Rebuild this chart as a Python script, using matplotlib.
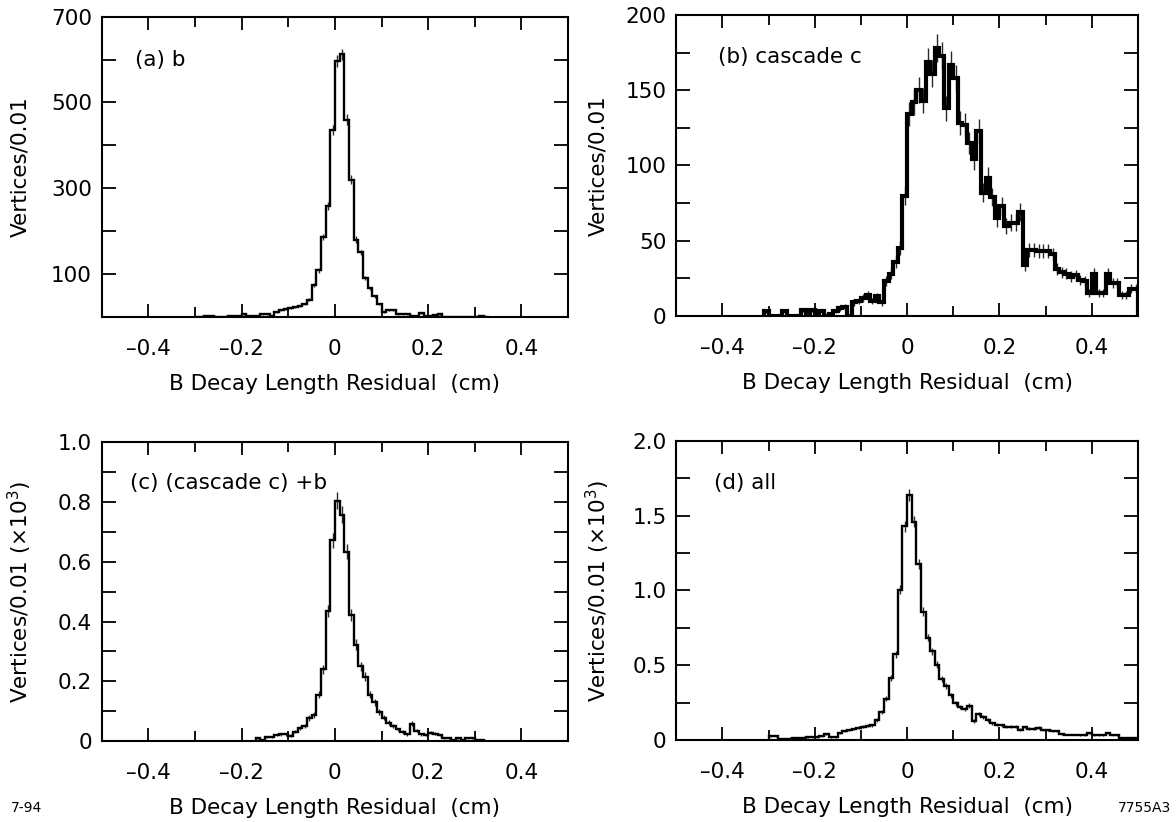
import numpy as np
import matplotlib
matplotlib.use("Agg")
import matplotlib.pyplot as plt
from matplotlib.ticker import FixedLocator, FixedFormatter

plt.rcParams['font.family'] = ['DejaVu Sans']
plt.rcParams['mathtext.fontset'] = 'dejavusans'

BIN = 0.01

# ---- panel (a): b ----  (left edge of first bin, counts per 0.01 bin)
a_start = -0.30
a_counts = [0, 0, 2, 2, 0, 0, 0, 1, 1, 1,
            6, 2, 2, 2, 6, 6, 1, 10, 15, 18,
            20, 22, 25, 30, 40, 74, 108, 186, 258, 435,
            597, 612, 460, 320, 180, 150, 90, 66, 48, 30,
            10, 15, 15, 6, 6, 6, 2, 2, 9, 2,
            2, 4, 6, 0, 0, 0, 0, 0, 0, 0,
            0, 2, 0]

# ---- panel (b): cascade c ----
b_start = -0.31
b_counts = [3, 0, 0, 0, 3, 0, 0, 0, 4, 2,
            4, 1, 3, 0, 1, 3, 5, 6, 0, 9,
            10, 12, 14, 10, 13, 9, 23, 28, 36, 45,
            80, 134, 142, 150, 143, 169, 161, 178, 173, 138,
            167, 158, 128, 127, 115, 104, 123, 82, 92, 79,
            65, 73, 60, 62, 62, 69, 34, 44, 44, 43,
            43, 43, 41, 31, 29, 28, 26, 27, 24, 23,
            15, 28, 15, 15, 28, 22, 22, 14, 14, 18,
            18]

# ---- panel (c): (cascade c) + b, in units of 10^3 ----
c_start = -0.17
c_vals = [0.009, 0.003, 0.012, 0.012, 0.020, 0.022, 0.022, 0.018, 0.031, 0.045,
          0.050, 0.077, 0.088, 0.155, 0.240, 0.435, 0.672,
          0.805, 0.758, 0.633, 0.422, 0.322, 0.250, 0.215, 0.155, 0.130, 0.097,
          0.078, 0.061, 0.050, 0.039, 0.030, 0.022, 0.058, 0.035, 0.022, 0.020,
          0.028, 0.025, 0.020, 0.010, 0.009, 0.005, 0.009, 0.004, 0.009, 0.009,
          0.004, 0.002]

# ---- panel (d): all, in units of 10^3 ----
d_start = -0.30
d_vals = [0.025, 0.025, 0.004, 0.004, 0.007, 0.015, 0.015, 0.015, 0.018, 0.018,
          0.018, 0.027, 0.042, 0.018, 0.018, 0.044, 0.058, 0.068, 0.072, 0.082,
          0.090, 0.095, 0.098, 0.133, 0.190, 0.275, 0.412, 0.572, 1.005, 1.430,
          1.640, 1.460, 1.175, 0.857, 0.685, 0.592, 0.503, 0.410, 0.360, 0.300,
          0.244, 0.222, 0.207, 0.230, 0.127, 0.175, 0.156, 0.133, 0.111, 0.103,
          0.098, 0.090, 0.090, 0.088, 0.070, 0.087, 0.075, 0.075, 0.082, 0.068,
          0.065, 0.058, 0.058, 0.038, 0.036, 0.036, 0.036, 0.035, 0.035, 0.046,
          0.030, 0.030, 0.030, 0.045, 0.030, 0.030, 0.012, 0.012, 0.012, 0.012]

x_major = [-0.4, -0.2, 0.0, 0.2, 0.4]
x_major_labels = ["\u20130.4", "\u20130.2", "0", "0.2", "0.4"]
x_minor = [-0.3, -0.1, 0.1, 0.3]

a_yticks = [100, 300, 500, 700]
a_ylabels = ["100", "300", "500", "700"]
a_yminor = [200, 400, 600]
b_yticks = [0, 50, 100, 150, 200]
b_ylabels = ["0", "50", "100", "150", "200"]
b_yminor = [25, 75, 125, 175]
c_yticks = [0, 0.2, 0.4, 0.6, 0.8, 1.0]
c_ylabels = ["0", "0.2", "0.4", "0.6", "0.8", "1.0"]
c_yminor = [0.1, 0.3, 0.5, 0.7, 0.9]
d_yticks = [0, 0.5, 1.0, 1.5, 2.0]
d_ylabels = ["0", "0.5", "1.0", "1.5", "2.0"]
d_yminor = [0.25, 0.75, 1.25, 1.75]

ylab1 = "Vertices/0.01"
ylab2 = r"Vertices/0.01 ($\times$10$^{3}$)"
xlab = "B Decay Length Residual  (cm)"

FS = 15.5
TFS = 15.5

fig = plt.figure(figsize=(11.76, 8.22), dpi=100)

panels = [
    dict(rect=[0.0864, 0.6147, 0.3967, 0.3650], start=a_start, vals=a_counts, unit=1.0,
         escale=0.55, ylim=700, yt=a_yticks, ytl=a_ylabels, ym=a_yminor, ylab=ylab1,
         text="(a) b", tpos=(0.0725, 0.856), lw=1.7, ylx=-0.153),
    dict(rect=[0.5751, 0.6156, 0.3925, 0.3662], start=b_start, vals=b_counts, unit=1.0,
         escale=0.7, ylim=200, yt=b_yticks, ytl=b_ylabels, ym=b_yminor, ylab=ylab1,
         text="(b) cascade c", tpos=(0.0897, 0.859), lw=3.0, ylx=-0.147),
    dict(rect=[0.0864, 0.0985, 0.3967, 0.3634], start=c_start, vals=c_vals, unit=1000.0,
         escale=1.0, ylim=1.0, yt=c_yticks, ytl=c_ylabels, ym=c_yminor, ylab=ylab2,
         text="(c) (cascade c) +b", tpos=(0.0604, 0.864), lw=1.7, ylx=-0.145),
    dict(rect=[0.5751, 0.0998, 0.3925, 0.3637], start=d_start, vals=d_vals, unit=1000.0,
         escale=1.0, ylim=2.0, yt=d_yticks, ytl=d_ylabels, ym=d_yminor, ylab=ylab2,
         text="(d) all", tpos=(0.0815, 0.858), lw=1.7, ylx=-0.139),
]

for p in panels:
    ax = fig.add_axes(p["rect"])
    vals = np.asarray(p["vals"], dtype=float)
    edges = p["start"] + BIN * np.arange(len(vals) + 1)
    centers = 0.5 * (edges[:-1] + edges[1:])
    err = p["escale"] * np.sqrt(vals * p["unit"]) / p["unit"]
    m = vals > 0
    ax.vlines(centers[m], (vals - err)[m], (vals + err)[m], color="#2a2a2a", lw=1.0, zorder=2)
    ax.stairs(vals, edges, color="black", lw=p["lw"], zorder=3)

    ax.set_xlim(-0.5, 0.5)
    ax.set_ylim(0, p["ylim"])
    ax.xaxis.set_major_locator(FixedLocator(x_major))
    ax.xaxis.set_major_formatter(FixedFormatter(x_major_labels))
    ax.xaxis.set_minor_locator(FixedLocator(x_minor))
    ax.yaxis.set_major_locator(FixedLocator(p["yt"]))
    ax.yaxis.set_major_formatter(FixedFormatter(p["ytl"]))
    ax.yaxis.set_minor_locator(FixedLocator(p["ym"]))

    ax.tick_params(axis="both", which="both", direction="in", top=True, right=True,
                   width=1.3, colors="black")
    ax.tick_params(axis="x", which="major", length=9.5, pad=16, labelsize=TFS)
    ax.tick_params(axis="x", which="minor", length=7)
    ax.tick_params(axis="y", which="major", length=10, pad=7, labelsize=TFS)
    ax.tick_params(axis="y", which="minor", length=10)
    for s in ax.spines.values():
        s.set_linewidth(1.5)

    ax.set_xlabel(xlab, fontsize=FS)
    ax.xaxis.set_label_coords(0.5, -0.19)
    ax.set_ylabel(p["ylab"], fontsize=FS)
    ax.yaxis.set_label_coords(p["ylx"], 0.5)

    ax.text(p["tpos"][0], p["tpos"][1], p["text"], transform=ax.transAxes,
            ha="left", va="center", fontsize=FS)

fig.text(11 / 1176, 1 - 808 / 822, "7-94", ha="left", va="center", fontsize=10)
fig.text(1171 / 1176, 1 - 808 / 822, "7755A3", ha="right", va="center", fontsize=10)

fig.savefig("out.png", dpi=100, facecolor="white")
